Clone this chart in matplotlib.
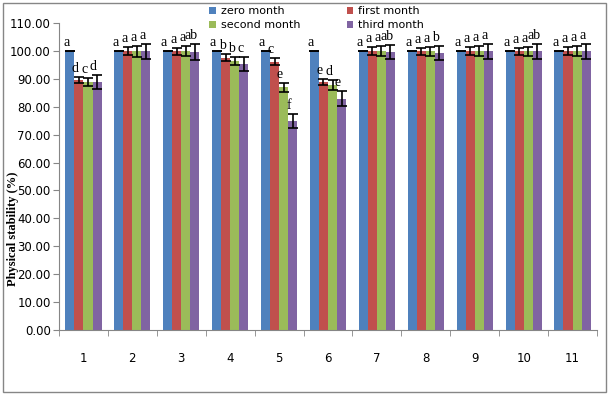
import matplotlib.pyplot as plt
import numpy as np
from matplotlib.patches import Rectangle

groups = [str(i) for i in range(1, 12)]
series = ["zero month", "first month", "second month", "third month"]
colors = ["#4F81BD", "#C0504D", "#9BBB59", "#8064A2"]

zero_m = [100.0] * 11
first_m = [89.6, 99.9, 99.8, 97.5, 96.1, 89.0, 99.9, 99.8, 99.9, 99.8, 99.9]
second_m = [88.9, 99.9, 99.9, 96.3, 87.0, 87.8, 99.9, 99.9, 99.9, 99.8, 99.9]
third_m = [88.9, 99.8, 99.6, 95.3, 74.9, 82.8, 99.6, 99.3, 99.8, 99.8, 99.8]

zero_e = [0.0] * 11
first_e = [1.1, 1.4, 1.2, 1.25, 1.25, 1.1, 1.5, 1.4, 1.4, 1.25, 1.5]
second_e = [1.55, 2.0, 1.7, 1.5, 1.55, 1.8, 1.8, 1.6, 1.7, 1.6, 1.9]
third_e = [2.45, 2.75, 2.7, 2.5, 2.55, 2.7, 2.55, 2.6, 2.75, 2.75, 2.55]

letters_zero = ["a"] * 11
letters_first = ["d", "a", "a", "b", "c", "e", "a", "a", "a", "a", "a"]
letters_second = ["c", "a", "a", "b", "e", "d", "a", "a", "a", "a", "a"]
letters_third = ["d", "a", "ab", "c", "f", "e", "ab", "b", "a", "ab", "a"]

values = [zero_m, first_m, second_m, third_m]
errors = [zero_e, first_e, second_e, third_e]
letters = [letters_zero, letters_first, letters_second, letters_third]

fig = plt.figure(figsize=(6.09, 3.95), dpi=100)
ax = fig.add_axes([59 / 609, 1 - 330 / 395, 538 / 609, 307 / 395])

x = np.arange(len(groups))
w = 0.185
for i in range(4):
    xs = x + (i - 1.5) * w
    ax.bar(xs, values[i], w, color=colors[i], label=series[i], zorder=2)
    ax.errorbar(xs, values[i], yerr=errors[i], fmt="none", ecolor="black",
                elinewidth=1.2, capsize=3.5, capthick=1.2, zorder=3)
    for xx, v, e, t in zip(xs, values[i], errors[i], letters[i]):
        ax.text(xx - 0.4 * w, v + e + 1.8, t, ha="center", va="baseline",
                fontsize=10, family="Liberation Serif", zorder=4)

ax.set_xlim(-0.5, len(groups) - 0.5)
ax.set_ylim(0, 110)
ax.set_yticks(np.arange(0, 111, 10))
ax.set_yticklabels(["%.2f" % v for v in np.arange(0, 111, 10)])
ax.set_xticks(x)
ax.set_xticklabels(groups)
ax.set_xticks(np.arange(-0.5, len(groups), 1), minor=True)
ax.tick_params(axis="x", which="major", length=0, pad=16, labelsize=8.5)
ax.tick_params(axis="x", which="minor", length=4, direction="out", color="#868686")
ax.tick_params(axis="y", length=4, direction="out", color="#868686", labelsize=8.5, pad=2)
for s in ["top", "right"]:
    ax.spines[s].set_visible(False)
for s in ["left", "bottom"]:
    ax.spines[s].set_color("#868686")

ax.set_ylabel("Physical stability (%)", family="Liberation Serif", fontweight="bold",
              fontsize=9)
ax.yaxis.set_label_coords(-40 / 538, (330 - 229) / 307)

h, l = ax.get_legend_handles_labels()
order = [0, 2, 1, 3]
fig.legend([h[k] for k in order], [l[k] for k in order], ncol=2, frameon=False,
           loc="upper left", bbox_to_anchor=(205 / 609, 1 - 2 / 395), fontsize=8,
           handlelength=0.6, handleheight=0.6, handletextpad=0.4, columnspacing=4.2,
           labelspacing=0.35, borderaxespad=0)

fig.patches.append(Rectangle((3 / 609, 3 / 395), 603 / 609, 389 / 395,
                             transform=fig.transFigure, fill=False,
                             edgecolor="#868686", linewidth=1))

fig.savefig("out.png", dpi=100)
